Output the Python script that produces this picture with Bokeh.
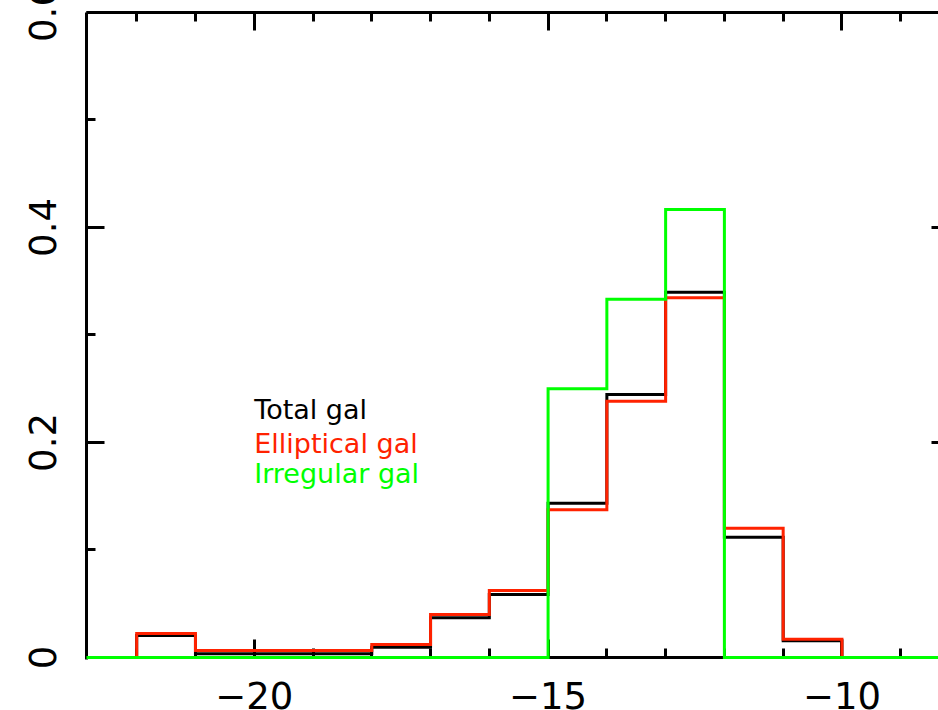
import math
from bokeh.plotting import figure
from bokeh.models import LinearAxis, FixedTicker, Label
from bokeh.core.properties import value
from bokeh.embed import file_html
from bokeh.resources import INLINE

# ---- data ----
bin_edges = [-22, -21, -20, -19, -18, -17, -16, -15, -14, -13, -12, -11, -10]
total_frac = [0.0205, 0.0035, 0.0035, 0.0035, 0.0096, 0.0370, 0.0586, 0.1435,
              0.2447, 0.3398, 0.1119, 0.0155]
ellip_frac = [0.0223, 0.0065, 0.0065, 0.0065, 0.0121, 0.0400, 0.0623, 0.1374,
              0.2384, 0.3346, 0.1203, 0.0170]
irr_edges = [-23, -22, -21, -20, -19, -18, -17, -16, -15, -14, -13, -12, -11, -10, -9, -8]
irr_frac = [0, 0, 0, 0, 0, 0, 0, 0, 0.25, 0.3333, 0.4167, 0, 0, 0, 0]

x_major = [-20, -15, -10]
x_labels = ["\u221220", "\u221215", "\u221210"]
x_minor = list(range(-23, -7))
y_major = [0, 0.2, 0.4, 0.6]
y_labels = ["0", "0.2", "0.4", "0.6"]
y_minor = [0.1, 0.3, 0.5]

legend_names = ["Total gal", "Elliptical gal", "Irregular gal"]

BLACK = "#000000"
RED = "#ff2200"
GREEN = "#00ff00"
FONT = "DejaVu Sans"

X0, X1 = -22.854, -8.357
Y0, Y1 = -0.0019, 0.6


def step(edges, vals):
    xs, ys = [edges[0]], [0]
    for i, v in enumerate(vals):
        xs += [edges[i], edges[i + 1]]
        ys += [v, v]
    xs.append(edges[-1]); ys.append(0)
    xs = [min(max(x, X0), X1) for x in xs]
    return xs, ys


p = figure(width=938, height=710, x_range=(X0, X1), y_range=(Y0, Y1),
           output_backend="svg", toolbar_location=None,
           x_axis_location=None, y_axis_location=None,
           min_border_left=86, min_border_top=12, min_border_bottom=51, min_border_right=0)
p.grid.visible = False
p.outline_line_color = None
p.background_fill_color = "white"
p.border_fill_color = "white"

xt = FixedTicker(ticks=x_major, minor_ticks=x_minor)
yt = FixedTicker(ticks=y_major, minor_ticks=y_minor)


def style(ax, ticks, maj_in, min_in, line=True):
    ax.major_tick_in = maj_in
    ax.major_tick_out = 0
    ax.minor_tick_in = min_in
    ax.minor_tick_out = 0
    ax.major_tick_line_width = 3
    ax.minor_tick_line_width = 3
    ax.major_tick_line_color = BLACK
    ax.minor_tick_line_color = BLACK if min_in > 0 else None
    ax.axis_line_width = 3
    ax.axis_line_color = BLACK if line else None
    ax.major_label_overrides = {t: "" for t in ticks}
    ax.major_label_text_font_size = "1px"
    ax.major_label_standoff = 0


bottom = LinearAxis(ticker=xt, fixed_location=0)
style(bottom, x_major, 18, 9)
p.add_layout(bottom, "below")

top = LinearAxis(ticker=xt)
style(top, x_major, 18, 9)
p.add_layout(top, "above")

left = LinearAxis(ticker=yt)
style(left, y_major, 18, 9)
p.add_layout(left, "left")

right = LinearAxis(ticker=yt)
style(right, y_major, 7, 0, line=False)
p.add_layout(right, "right")

# tick labels (overlay-level text glyphs so they can sit outside the frame)
p.text(x=x_major, y=[0] * len(x_major), text=x_labels, y_offset=38,
       text_align="center", text_baseline="middle", text_font=value(FONT),
       text_font_size="37px", text_color=BLACK, level="overlay")
p.text(x=[X0] * len(y_major), y=y_major, text=y_labels, x_offset=-44,
       angle=math.pi / 2, text_align="center", text_baseline="middle",
       text_font=value(FONT), text_font_size="37px", text_color=BLACK,
       level="overlay")

tx, ty = step(bin_edges, total_frac)
ex, ey = step(bin_edges, ellip_frac)
gx, gy = step(irr_edges, irr_frac)
p.line(tx, ty, line_color=BLACK, line_width=3, line_join="miter", level="overlay")
p.line(ex, ey, line_color=RED, line_width=3, line_join="miter", level="overlay")
p.line(gx, gy, line_color=GREEN, line_width=3, line_join="miter", level="overlay")

for name, col, yy in zip(legend_names, [BLACK, RED, GREEN], [0.2307, 0.1993, 0.1714]):
    p.add_layout(Label(x=-20.0, y=yy, text=name, text_color=col, text_font=FONT,
                       text_font_size="27px", text_baseline="middle"))

open("out.html", "w").write(file_html(p, INLINE))
